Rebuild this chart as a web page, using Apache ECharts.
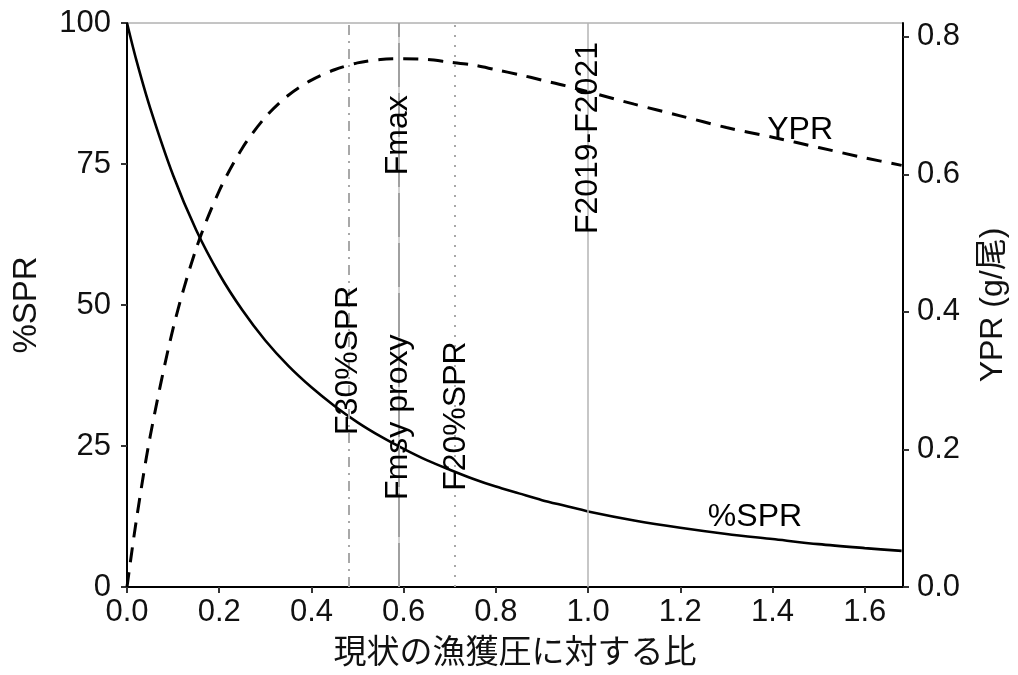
<!DOCTYPE html>
<html>
<head>
<meta charset="utf-8">
<script src="https://cdn.jsdelivr.net/npm/echarts@6/dist/echarts.min.js"></script>
<style>
  html, body { margin: 0; padding: 0; background: #fff; }
  #chart { width: 1018px; height: 675px; }
</style>
</head>
<body>
<div id="chart"></div>
<script>
// Fishing pressure relative to current (F2019-F2021 = 1.0)
const fRatio = [0, 0.02, 0.05, 0.1, 0.15, 0.2, 0.25, 0.3, 0.35, 0.4, 0.45, 0.5, 0.55, 0.6, 0.65,
  0.7, 0.75, 0.8, 0.85, 0.9, 0.95, 1.0, 1.1, 1.2, 1.3, 1.4, 1.5, 1.6, 1.68];
// Spawning potential ratio (%)
const sprPct = [100, 93.5, 85.0, 73.0, 63.3, 55.5, 49.1, 43.7, 39.2, 35.4, 32.1, 29.2, 26.7, 24.5, 22.5,
  20.8, 19.2, 17.8, 16.6, 15.4, 14.4, 13.4, 11.8, 10.5, 9.4, 8.5, 7.6, 6.9, 6.4];
// Yield per recruit (g per fish)
const yprG = [0, 0.096, 0.218, 0.376, 0.492, 0.576, 0.638, 0.683, 0.715, 0.737, 0.752, 0.762, 0.767, 0.768, 0.767,
  0.763, 0.759, 0.752, 0.745, 0.737, 0.729, 0.720, 0.702, 0.685, 0.668, 0.654, 0.639, 0.624, 0.613];

// Reference fishing levels
const refNames = ['F30%SPR', 'Fmsy proxy', 'Fmax', 'F20%SPR', 'F2019-F2021'];
const refF = [0.479, 0.588, 0.588, 0.714, 1.0];

// Axis ticks
const xTicks = [0, 0.2, 0.4, 0.6, 0.8, 1.0, 1.2, 1.4, 1.6];
const sprTicks = [0, 25, 50, 75, 100];
const yprTicks = [0, 0.2, 0.4, 0.6, 0.8];

const FONT = '"Liberation Sans", Arial, "Noto Sans CJK JP", sans-serif';

const refStyles = {
  'F30%SPR':     { color: '#a8a8a8', width: 2,   type: [10, 6, 2, 6] },
  'Fmsy proxy':  { color: '#c4c4c4', width: 1.5, type: 'solid' },
  'Fmax':        { color: '#a0a0a0', width: 2,   type: [44, 6] },
  'F20%SPR':     { color: '#a8a8a8', width: 2,   type: [2, 8] },
  'F2019-F2021': { color: '#b4b4b4', width: 1.5, type: 'solid' }
};

// Where each text label sits, in data coordinates (F, %SPR)
const labelSpots = {
  'F30%SPR': 40.2, 'Fmsy proxy': 30.1, 'Fmax': 80.1, 'F20%SPR': 30.3, 'F2019-F2021': 79.6
};

const annotations = refNames.map((n, i) => ({
  name: n, value: [refF[i], labelSpots[n]], label: { rotate: 90 }
}));
annotations.push({ name: 'YPR', value: [1.46, 81.0], label: { rotate: 0 } });
annotations.push({ name: '%SPR', value: [1.362, 12.4], label: { rotate: 0 } });

const chart = echarts.init(document.getElementById('chart'), null, { renderer: 'canvas' });

chart.setOption({
  animation: false,
  backgroundColor: '#fff',
  textStyle: { fontFamily: FONT },
  grid: { left: 127, right: 115, top: 23, bottom: 88, show: true, borderColor: '#8a8a8a', borderWidth: 1 },
  xAxis: {
    type: 'value', min: 0, max: 1.683, interval: 0.2,
    name: '現状の漁獲圧に対する比', nameLocation: 'middle', nameGap: 50,
    nameTextStyle: { fontSize: 33, color: '#111', fontFamily: FONT },
    axisLine: { show: true, onZero: false, lineStyle: { color: '#000', width: 2 } },
    axisTick: { show: true, length: 6, customValues: xTicks, lineStyle: { color: '#333', width: 2 } },
    axisLabel: { customValues: xTicks, margin: 10, fontSize: 31, color: '#111',
      formatter: v => v.toFixed(1) },
    splitLine: { show: false }
  },
  yAxis: [{
    type: 'value', min: 0, max: 100, interval: 25, position: 'left',
    name: '%SPR', nameLocation: 'middle', nameGap: 84, nameRotate: 90,
    nameTextStyle: { fontSize: 33, color: '#111', fontFamily: FONT },
    axisLine: { show: true, onZero: false, lineStyle: { color: '#000', width: 2 } },
    axisTick: { show: true, length: 6, customValues: sprTicks, lineStyle: { color: '#333', width: 2 } },
    axisLabel: { customValues: sprTicks, margin: 16, fontSize: 31, color: '#111' },
    splitLine: { show: false }
  }, {
    type: 'value', min: 0, max: 0.82, interval: 0.2, position: 'right',
    name: 'YPR (g/尾)', nameLocation: 'middle', nameGap: 74, nameRotate: 90,
    nameTextStyle: { fontSize: 32, color: '#111', fontFamily: FONT },
    axisLine: { show: true, onZero: false, lineStyle: { color: '#000', width: 2 } },
    axisTick: { show: true, length: 6, customValues: yprTicks, lineStyle: { color: '#333', width: 2 } },
    axisLabel: { customValues: yprTicks, margin: 14, fontSize: 31, color: '#111',
      formatter: v => v.toFixed(1) },
    splitLine: { show: false }
  }],
  series: [{
    name: 'refs', type: 'line', data: [], yAxisIndex: 0, z: 1,
    markLine: {
      silent: true, symbol: ['none', 'none'], animation: false,
      label: { show: false },
      data: refNames.map((n, i) => ({ xAxis: refF[i], lineStyle: refStyles[n] }))
    }
  }, {
    name: '%SPR', type: 'line', yAxisIndex: 0, z: 3,
    data: fRatio.map((f, i) => [f, sprPct[i]]),
    showSymbol: false, smooth: 0.3,
    lineStyle: { color: '#000', width: 2.6 }
  }, {
    name: 'YPR', type: 'line', yAxisIndex: 1, z: 3,
    data: fRatio.map((f, i) => [f, yprG[i]]),
    showSymbol: false, smooth: 0.3,
    lineStyle: { color: '#000', width: 3, type: [15, 10] }
  }, {
    name: 'labels', type: 'scatter', yAxisIndex: 0, z: 5, silent: true,
    symbolSize: 0,
    itemStyle: { opacity: 1 },
    data: annotations,
    label: {
      show: true, position: 'inside', formatter: '{b}', opacity: 1,
      fontSize: 32, color: '#000', fontFamily: FONT
    }
  }]
});
</script>
</body>
</html>
